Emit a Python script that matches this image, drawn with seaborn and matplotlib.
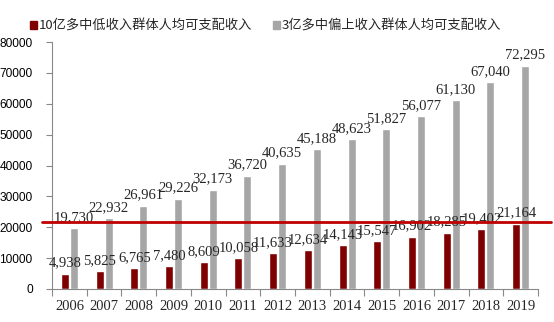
import matplotlib
matplotlib.use("Agg")
import matplotlib.pyplot as plt
import seaborn as sns
import pandas as pd
from matplotlib.patches import Patch

years = ["2006", "2007", "2008", "2009", "2010", "2011", "2012",
         "2013", "2014", "2015", "2016", "2017", "2018", "2019"]
low_income = [4938, 5825, 6765, 7480, 8609, 10058, 11633,
              12634, 14143, 15547, 16902, 18285, 19402, 21164]
high_income = [19730, 22932, 26961, 29226, 32173, 36720, 40635,
               45188, 48623, 51827, 56077, 61130, 67040, 72295]
series_names = ["10亿多中低收入群体人均可支配收入", "3亿多中偏上收入群体人均可支配收入"]
ref_value = 21800

sns.set_theme(style="white")
plt.rcParams['font.family'] = ['Liberation Serif', 'Noto Sans CJK SC', 'DejaVu Sans']

df = pd.DataFrame({
    "year": years * 2,
    "value": low_income + high_income,
    "series": [series_names[0]] * len(years) + [series_names[1]] * len(years),
})

colors = ["#7F0000", "#A6A6A6"]
fig = plt.figure(figsize=(5.54, 3.22), dpi=100)
ax = fig.add_axes([0.094, 0.1025, 0.877, 0.767])

sns.barplot(data=df, x="year", y="value", hue="series", palette=colors,
            width=0.52, gap=0.12, ax=ax, legend=False, saturation=1)

ax.set_ylim(0, 80000)
ax.set_xlim(-0.5, len(years) - 0.5)
ax.set_xlabel("")
ax.set_ylabel("")
ax.set_yticks(range(0, 80001, 10000))
ax.set_yticklabels([str(v) for v in range(0, 80001, 10000)],
                   fontsize=8.6, family=['Liberation Sans'], color="#000000")
ax.tick_params(axis='x', labelsize=10.5, length=0, pad=8)
ax.tick_params(axis='y', length=4, width=0.8, color="#888888", direction="out", left=True, pad=10)
for lab in ax.get_xticklabels():
    lab.set_family(['Liberation Serif'])

# tick marks between categories on x axis
ax.set_xticks([i + 0.5 for i in range(-1, len(years))], minor=True)
ax.tick_params(axis='x', which='minor', length=5, width=0.8, color="#888888", direction="out", bottom=True)

for side in ["top", "right"]:
    ax.spines[side].set_visible(False)
for side in ["left", "bottom"]:
    ax.spines[side].set_color("#888888")
    ax.spines[side].set_linewidth(0.8)

# value labels
for cont in ax.containers:
    ax.bar_label(cont, labels=[f"{int(v):,}" for v in cont.datavalues],
                 fontsize=10.5, padding=3, family=['Liberation Serif'])

# reference line
ax.axhline(ref_value, xmin=-0.021, xmax=1.027, color="#C00000", lw=2, clip_on=False, zorder=5)

handles = [Patch(facecolor=c, edgecolor=c) for c in colors]
fig.legend(handles, series_names, loc="center", bbox_to_anchor=(0.48, 0.918), ncol=2,
           frameon=False, handlelength=0.5, handleheight=0.5, handletextpad=0.15,
           columnspacing=1.6, prop={'family': ['Noto Sans CJK SC'], 'size': 9.5})

fig.savefig("out.png", dpi=100)
